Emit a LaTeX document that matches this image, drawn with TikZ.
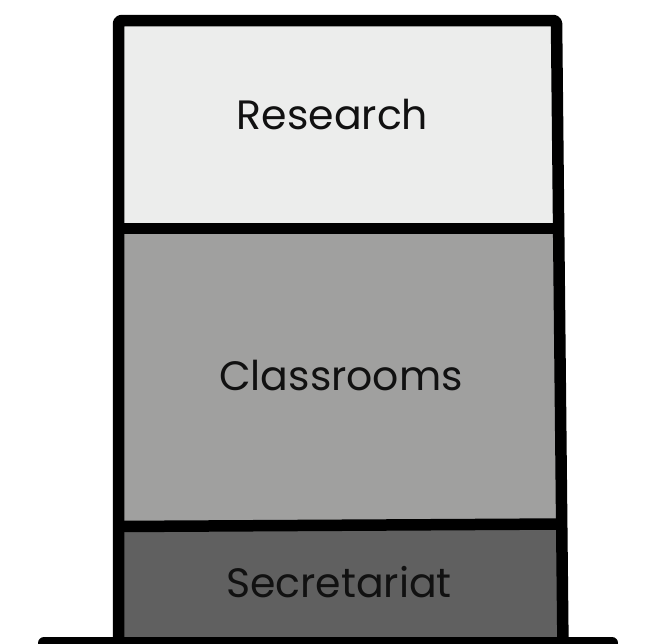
\documentclass[tikz,border=0pt]{standalone}
\usepackage{fontspec}
\setmainfont{Poppins}
\definecolor{lt}{HTML}{ECEDEC}
\definecolor{mid}{HTML}{A0A09F}
\definecolor{dk}{HTML}{606060}
\definecolor{ink}{HTML}{111111}
\begin{document}
\begin{tikzpicture}[x=1pt,y=-1pt,
  wall/.style={line width=11.5pt, line join=round},
  lbl/.style={font=\fontsize{41}{41}\selectfont, text=ink, anchor=base, inner sep=0pt}]
\useasboundingbox (0,0) rectangle (647,643);
\fill[lt] (118,20) -- (557,20) -- (558,228) -- (118,228) -- cycle;
\fill[mid] (118,228) -- (558,228) -- (562,526) -- (118,526) -- cycle;
\fill[dk] (118,526) -- (562,526) -- (564,643) -- (118,643) -- cycle;
\draw[wall, rounded corners=3pt] (118.5,650) -- (118.5,20.5) -- (556.5,20.5) -- (563,650);
\draw[wall] (118,228.5) -- (558,228.5);
\draw[wall] (118,526.5) -- (562,524);
\draw[line width=12pt, line cap=round] (44,643) -- (612,643);
\node[lbl] (r) at (332.5,129) {Research};
\node[lbl] (c) at (341,390) {Classrooms};
\node[lbl] (s) at (339,597) {Secretariat};
\end{tikzpicture}
\end{document}
